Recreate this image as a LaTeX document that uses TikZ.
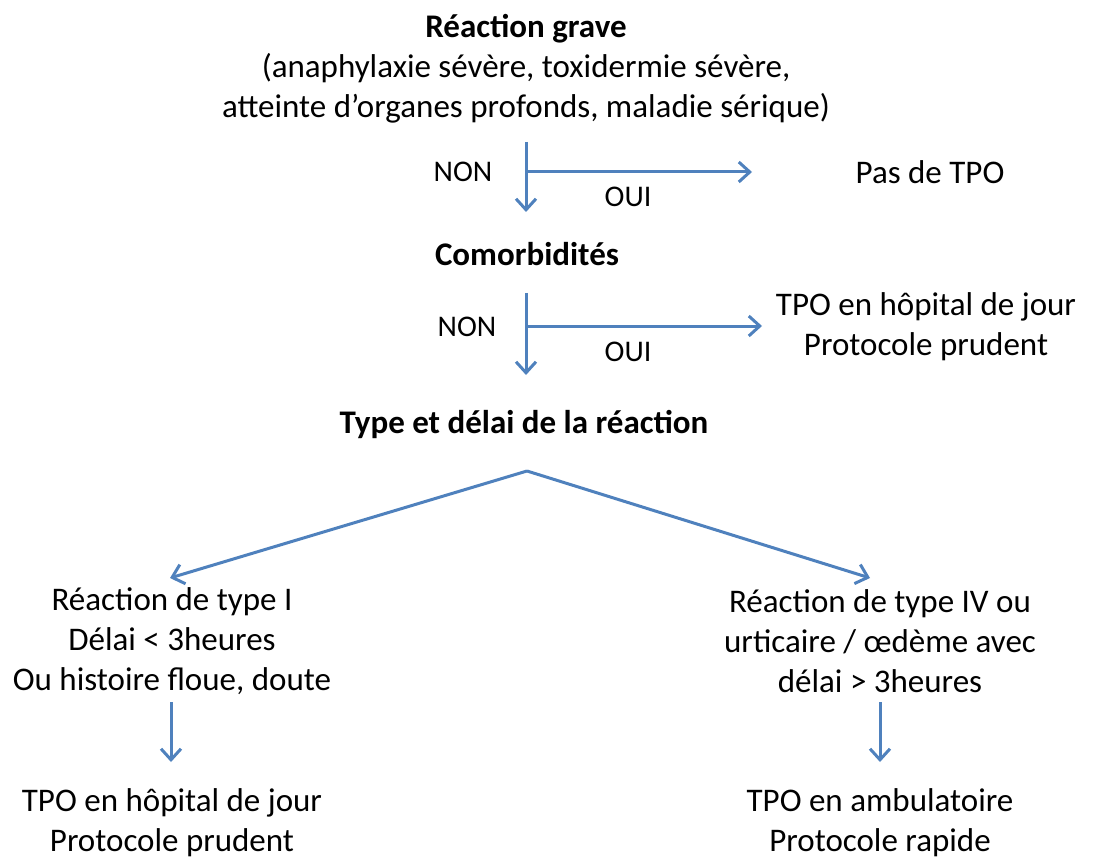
\documentclass[tikz,border=0pt]{standalone}
\usepackage{fontspec}
\setmainfont{Carlito}
\usetikzlibrary{arrows.meta}
\definecolor{arrowblue}{HTML}{4F81BD}
\begin{document}
\begin{tikzpicture}[x=1pt,y=-1pt,
  txt/.style={inner sep=0pt,align=center,font=\fontsize{33}{40}\selectfont},
  btxt/.style={txt,font=\bfseries\fontsize{33}{40}\selectfont},
  lbl/.style={inner sep=0pt,font=\fontsize{30}{34}\selectfont},
  conn/.style={draw=arrowblue,line width=3pt,-{Straight Barb[length=11pt,width=20pt,line width=3pt]}}]
\useasboundingbox (0,0) rectangle (1094,858);
\node[txt] (rg) at (526,69) {\textbf{Réaction grave}\\(anaphylaxie sévère, toxidermie sévère,\\atteinte d’organes profonds, maladie sérique)};
\node[txt] (pas) at (930,172) {Pas de TPO};
\node[btxt] (como) at (527,254) {Comorbidités};
\node[txt] (hj1) at (926,327) {TPO en hôpital de jour\\Protocole prudent};
\node[btxt] (type) at (524,424) {Type et délai de la réaction};
\node[txt] (t1) at (172,641) {Réaction de type I\\Délai < 3heures\\Ou histoire floue, doute};
\node[txt] (t4) at (880,641) {Réaction de type IV ou\\urticaire / œdème avec\\délai > 3heures};
\node[txt] (hj2) at (172,823) {TPO en hôpital de jour\\Protocole prudent};
\node[txt] (amb) at (880,823) {TPO en ambulatoire\\Protocole rapide};
% labels
\node[lbl] (non1) at (463,172) {NON};
\node[lbl] (oui1) at (628,197) {OUI};
\node[lbl] (non2) at (467,327) {NON};
\node[lbl] (oui2) at (628,352) {OUI};
% junction coordinates
\coordinate (s1) at (526,142);
\coordinate (j1) at (526,172);
\coordinate (e1) at (526,212);
\coordinate (h1) at (752,172);
\coordinate (s2) at (526,293);
\coordinate (j2) at (526,326);
\coordinate (e2) at (526,375);
\coordinate (h2) at (762,326);
\coordinate (top) at (527,471);
\coordinate (l3) at (170,578);
\coordinate (r3) at (870,578);
\coordinate (a1) at (171,702);
\coordinate (b1) at (171,762);
\coordinate (a2) at (880,702);
\coordinate (b2) at (880,762);
% connectors
\draw[conn] (s1) -- (e1);
\draw[conn] (j1) -- (h1);
\draw[conn] (s2) -- (e2);
\draw[conn] (j2) -- (h2);
\draw[conn] (top) -- (l3);
\draw[conn] (top) -- (r3);
\draw[conn] (a1) -- (b1);
\draw[conn] (a2) -- (b2);
\end{tikzpicture}
\end{document}
